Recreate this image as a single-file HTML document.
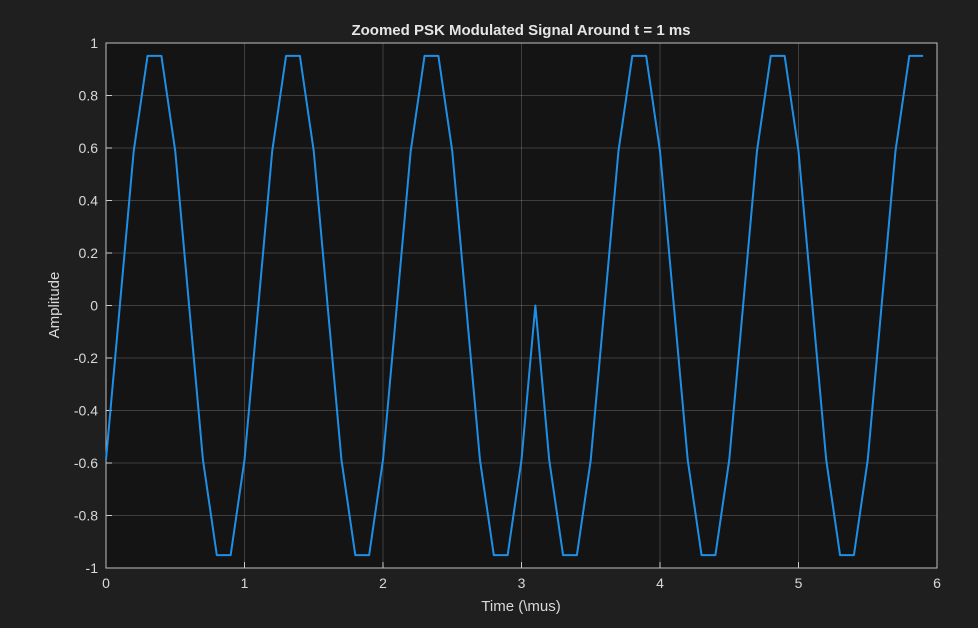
<!DOCTYPE html>
<html><head><meta charset="utf-8"><style>
html,body{margin:0;padding:0;background:#1f1f1f;}
svg{display:block;font-family:"Liberation Sans",sans-serif;}
</style></head><body>
<svg id="chart" width="978" height="628">
<rect x="0" y="0" width="978" height="628" fill="#1f1f1f"/>
<rect x="106" y="43" width="831" height="525" fill="#141414"/>
<g id="grid"></g>
<g id="axes"></g>
<g id="series"></g>
<text x="521" y="35" text-anchor="middle" fill="#e6e6e6" font-size="15" font-weight="bold">Zoomed PSK Modulated Signal Around t = 1 ms</text>
<text x="521" y="611" text-anchor="middle" fill="#d9d9d9" font-size="15">Time  (\mus)</text>
<text x="59" y="305" text-anchor="middle" fill="#d9d9d9" font-size="15" transform="rotate(-90 59 305)">Amplitude</text>
</svg>
<script>
const xTicks=[0,1,2,3,4,5,6];
const yTicks=[-1,-0.8,-0.6,-0.4,-0.2,0,0.2,0.4,0.6,0.8,1];
const yTickLabels=["-1","-0.8","-0.6","-0.4","-0.2","0","0.2","0.4","0.6","0.8","1"];
const timeStep=0.1;
const amplitude=[
-0.5878,0,0.5878,0.9511,0.9511,0.5878,0,-0.5878,-0.9511,-0.9511,
-0.5878,0,0.5878,0.9511,0.9511,0.5878,0,-0.5878,-0.9511,-0.9511,
-0.5878,0,0.5878,0.9511,0.9511,0.5878,0,-0.5878,-0.9511,-0.9511,
-0.5878,0,-0.5878,-0.9511,-0.9511,-0.5878,0,0.5878,0.9511,0.9511,
0.5878,0,-0.5878,-0.9511,-0.9511,-0.5878,0,0.5878,0.9511,0.9511,
0.5878,0,-0.5878,-0.9511,-0.9511,-0.5878,0,0.5878,0.9511,0.9511];
const L=106,R=937,T=43,B=568;
const sx=v=>L+(v-0)/(6-0)*(R-L);
const sy=v=>B-(v+1)/2*(B-T);
const NS="http://www.w3.org/2000/svg";
const grid=document.getElementById('grid'),axes=document.getElementById('axes'),series=document.getElementById('series');
function mk(tag,attrs){const e=document.createElementNS(NS,tag);for(const k in attrs)e.setAttribute(k,attrs[k]);return e;}
xTicks.forEach(t=>{
 const g=mk('line',{x1:sx(t),x2:sx(t),y1:T,y2:B,stroke:'#ffffff','stroke-opacity':0.18,'stroke-width':1});
 
 
 grid.appendChild(g);
 const tk=mk('line',{x1:sx(t),x2:sx(t),y1:B,y2:B-6,stroke:'#cccccc'});
 
 
 axes.appendChild(tk);
 const lb=mk('text',{x:sx(t),y:B+20,'text-anchor':'middle',fill:'#d9d9d9','font-size':14});
 lb.textContent=String(t);
 
 
 axes.appendChild(lb);
});
yTicks.forEach((t,i)=>{
 const g=mk('line',{x1:L,x2:R,y1:sy(t),y2:sy(t),stroke:'#ffffff','stroke-opacity':0.18,'stroke-width':1});
 
 
 grid.appendChild(g);
 const tk=mk('line',{x1:L,x2:L+6,y1:sy(t),y2:sy(t),stroke:'#cccccc'});
 
 
 axes.appendChild(tk);
 const lb=mk('text',{x:L-8,y:sy(t)+5,'text-anchor':'end',fill:'#d9d9d9','font-size':14});
 lb.textContent=yTickLabels[i];
 
 
 axes.appendChild(lb);
});
const box=mk('rect',{x:L,y:T,width:R-L,height:B-T,fill:'none',stroke:'#bfbfbf','stroke-width':1});


axes.appendChild(box);
const pts=amplitude.map((v,i)=>sx(i*timeStep).toFixed(2)+','+sy(v).toFixed(2)).join(' ');
const line=mk('polyline',{points:pts,fill:'none',stroke:'#1f8fe6','stroke-width':2,'stroke-linejoin':'round'});


series.appendChild(line);
</script>
</body></html>
